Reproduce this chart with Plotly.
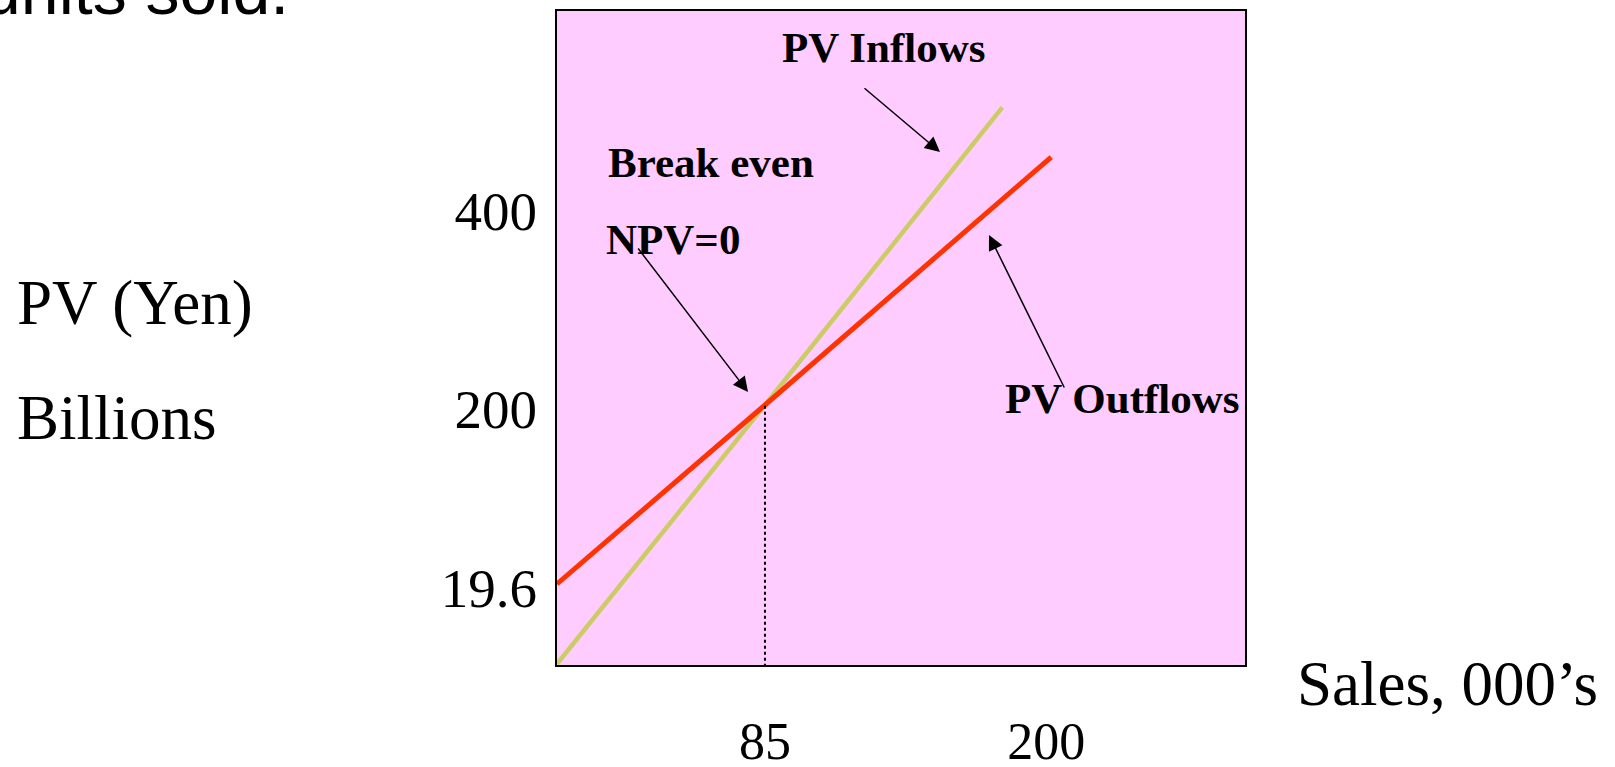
import plotly.graph_objects as go

# Break-even analysis: present value of inflows vs outflows against sales volume
sales_in = [0, 85, 182]            # sales, thousands of units
pv_inflows = [-61, 200, 500]       # PV of inflows, Yen billions
sales_out = [0, 85, 202]
pv_outflows = [19.6, 200, 450]     # PV of outflows, Yen billions

break_even_sales = 85
break_even_pv = 200

x_ticks = [85, 200]
x_tick_labels = ["85", "200"]
y_ticks = [19.6, 200, 400]
y_tick_labels = ["19.6", "200", "400"]

W, H = 1615, 767
L, R, T, B = 557, 1245, 11, 665          # plot box in pixels


def px(x):
    return (x - L) / (R - L)


def py(y):
    return (B - y) / (B - T)


SERIF = "Liberation Serif"

fig = go.Figure()
fig.add_trace(go.Scatter(x=sales_in, y=pv_inflows, mode="lines",
                         line=dict(color="#CCCC66", width=4.5),
                         name="PV Inflows", showlegend=False))
fig.add_trace(go.Scatter(x=sales_out, y=pv_outflows, mode="lines",
                         line=dict(color="#FF3300", width=5),
                         name="PV Outflows", showlegend=False))
fig.add_trace(go.Scatter(x=[break_even_sales, break_even_sales],
                         y=[-70, break_even_pv], mode="lines",
                         line=dict(color="black", width=2, dash="dot"),
                         showlegend=False))

annotations = []


def label(text, x, y, size, bold=False, family=SERIF, xanchor="center"):
    t = f"<b>{text}</b>" if bold else text
    annotations.append(dict(text=t, x=px(x), y=py(y), xref="paper", yref="paper",
                            xanchor=xanchor, yanchor="middle", showarrow=False,
                            font=dict(family=family, size=size, color="black")))


def arrow(tail, head):
    annotations.append(dict(text="", x=px(head[0]), y=py(head[1]),
                            xref="paper", yref="paper",
                            ax=tail[0] - head[0], ay=tail[1] - head[1],
                            showarrow=True, arrowhead=2, arrowsize=2,
                            arrowwidth=1.5, arrowcolor="black"))


label("PV Inflows", 884, 48, 43, bold=True)
label("Break even", 606, 162, 43, bold=True, xanchor="left")
label("NPV=0", 604, 239, 43, bold=True, xanchor="left")
label("PV Outflows", 1242, 398, 43, bold=True, xanchor="right")
arrow((863, 87), (940, 152))
arrow((637, 247), (748, 392))
arrow((1065, 389), (989, 235))

label("PV (Yen)", 15, 303, 63, xanchor="left")
label("Billions", 15, 418, 63, xanchor="left")
label("Sales, 000\u2019s", 1295, 684, 63, xanchor="left")
label("units sold.", 291, -10, 68, family="Liberation Sans", xanchor="right")

fig.update_layout(
    width=W, height=H,
    margin=dict(l=L, r=W - R, t=T, b=H - B, pad=0, autoexpand=False),
    paper_bgcolor="white", plot_bgcolor="#FFCCFF",
    showlegend=False,
    annotations=annotations,
)
fig.update_xaxes(range=[0, 281.2], showgrid=False, zeroline=False,
                 showline=True, mirror=True, linecolor="black", linewidth=2,
                 ticks="", tickvals=x_ticks, ticktext=x_tick_labels,
                 tickfont=dict(family=SERIF, size=52, color="black"),
                 ticklabelstandoff=30, automargin=False)
fig.update_yaxes(range=[-62.1, 597.2], showgrid=False, zeroline=False,
                 showline=True, mirror=True, linecolor="black", linewidth=2,
                 ticks="", tickvals=y_ticks, ticktext=y_tick_labels,
                 tickfont=dict(family=SERIF, size=55, color="black"),
                 ticklabelstandoff=7, ticklabelshift=4, automargin=False)

fig.write_html("out.html")
